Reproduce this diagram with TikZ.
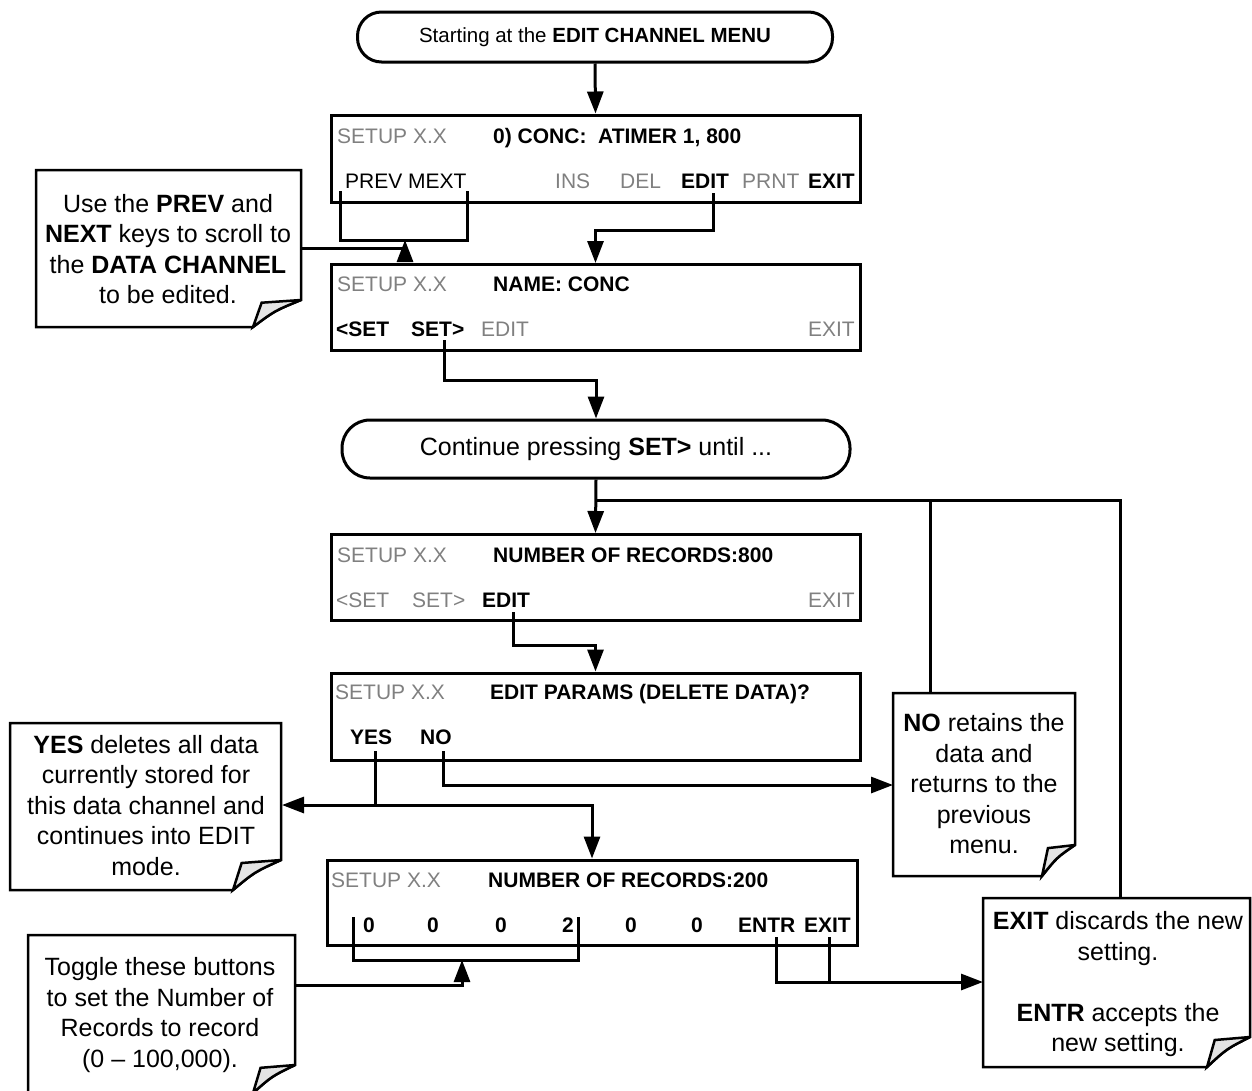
\documentclass[tikz,border=0pt]{standalone}
\usepackage{fontspec}
\setmainfont{Liberation Sans}
\usetikzlibrary{arrows.meta,calc}
\definecolor{scrgray}{RGB}{128,128,128}
\definecolor{foldgray}{RGB}{228,228,228}
\tikzset{
  conn/.style={line width=3pt},
  arr/.style={conn,-{Triangle[length=22pt,width=16pt]}},
  screenbox/.style={draw,line width=3pt,inner sep=0pt,minimum width=529pt,minimum height=86pt},
  termbox/.style={draw,line width=3pt,inner sep=0pt},
  stxt/.style={inner sep=0pt,anchor=base west,font=\fontsize{21}{25}\selectfont},
  gtxt/.style={stxt,text=scrgray},
  btxt/.style={stxt,font=\fontsize{21}{25}\selectfont\bfseries},
  notetxt/.style={align=center,inner sep=0pt,font=\fontsize{25}{30.5}\selectfont},
  notebox/.style={line width=2.5pt},
}
% x1 y1 x2 y2 dx dy
\newcommand\mynote[6]{%
  \draw[notebox,fill=white] (#1,#2) -- (#3,#2) -- (#3,{#4-#6})
     .. controls ({#3-0.55*#5},{#4-0.6*#6}) .. ({#3-#5},#4) -- (#1,#4) -- cycle;
  \filldraw[notebox,fill=foldgray] (#3,{#4-#6}) -- ({#3-0.82*#5},{#4-0.9*#6})
     .. controls ({#3-0.9*#5},{#4-0.5*#6}) .. ({#3-#5},#4)
     .. controls ({#3-0.55*#5},{#4-0.6*#6}) .. (#3,{#4-#6});
}
\begin{document}
\begin{tikzpicture}[x=1pt,y=-1pt]
\useasboundingbox (0,0) rectangle (1252,1090);

% ---------- notes ----------
\mynote{36}{170}{301}{327}{48}{27}
\node[notetxt] (n1t) at (168,249) {Use the \textbf{PREV} and\\\textbf{NEXT} keys to scroll to\\the \textbf{DATA CHANNEL}\\to be edited.};
\mynote{10}{723}{281}{890}{48}{30}
\node[notetxt] (n2t) at (146,805.5) {\textbf{YES} deletes all data\\currently stored for\\this data channel and\\continues into EDIT\\mode.};
\mynote{893}{693}{1075}{876}{33}{31}
\node[notetxt] (n3t) at (984,784) {\textbf{NO} retains the\\data and\\returns to the\\previous\\menu.};
\mynote{983}{898}{1250}{1067}{43}{30}
\node[notetxt] (n4t) at (1118,984.5) {\textbf{EXIT} discards the new\\setting.\\[30.5pt]\textbf{ENTR} accepts the\\new setting.};
\mynote{28}{935}{295}{1093}{42}{28}
\node[notetxt] (n5t) at (160,1015) {Toggle these buttons\\to set the Number of\\Records to record\\(0 -- 100,000).};

% ---------- terminators ----------
\node[termbox,rounded corners=24pt,minimum width=475pt,minimum height=50pt,font=\fontsize{20.5}{24}\selectfont] (t1) at (595,37) {Starting at the \textbf{EDIT CHANNEL MENU}};
\node[termbox,rounded corners=28pt,minimum width=508pt,minimum height=58pt,font=\fontsize{25}{30}\selectfont] (t2) at (596,449) {Continue pressing \textbf{SET>} until ...};

% ---------- screens ----------
\node[screenbox,minimum height=87pt] (scr1) at (595.5,158.5) {};
\node[screenbox] (scr2) at (595.5,307.5) {};
\node[screenbox] (scr3) at (595.5,577.5) {};
\node[screenbox,minimum height=87pt] (scr4) at (595.5,716.5) {};
\node[screenbox,minimum width=530pt,minimum height=85pt] (scr5) at (592,902.5) {};

% screen 1
\node[gtxt] (s1a) at (337,143.5) {SETUP X.X};
\node[btxt] (s1b) at (493,143.5) {0) CONC:\ \ ATIMER 1, 800};
\node[stxt] (s1c) at (345,188) {PREV MEXT};
\node[gtxt] (s1d) at (555,188) {INS};
\node[gtxt] (s1e) at (620,188) {DEL};
\node[btxt] (s1f) at (681,188) {EDIT};
\node[gtxt] (s1g) at (742,188) {PRNT};
\node[btxt,anchor=base east] (s1h) at (855,188) {EXIT};
% screen 2
\node[gtxt] (s2a) at (337,291.5) {SETUP X.X};
\node[btxt] (s2b) at (493,291.5) {NAME: CONC};
\node[btxt] (s2c) at (336,336) {<SET};
\node[btxt] (s2d) at (411,336) {SET>};
\node[gtxt] (s2e) at (481,336) {EDIT};
\node[gtxt,anchor=base east] (s2f) at (855,336) {EXIT};
% screen 3
\node[gtxt] (s3a) at (337,562.5) {SETUP X.X};
\node[btxt] (s3b) at (493,562.5) {NUMBER OF RECORDS:800};
\node[gtxt] (s3c) at (336,607.5) {<SET};
\node[gtxt] (s3d) at (412,607.5) {SET>};
\node[btxt] (s3e) at (482,607.5) {EDIT};
\node[gtxt,anchor=base east] (s3f) at (855,607.5) {EXIT};
% screen 4
\node[gtxt] (s4a) at (335,699.5) {SETUP X.X};
\node[btxt] (s4b) at (490,699.5) {EDIT PARAMS (DELETE DATA)?};
\node[btxt] (s4c) at (350,744.5) {YES};
\node[btxt] (s4d) at (420,744.5) {NO};
% screen 5
\node[gtxt] (s5a) at (331,887.5) {SETUP X.X};
\node[btxt] (s5b) at (488,887.5) {NUMBER OF RECORDS:200};
\node[btxt,anchor=base] (s5c) at (369,932.5) {0};
\node[btxt,anchor=base] (s5d) at (433,932.5) {0};
\node[btxt,anchor=base] (s5e) at (501,932.5) {0};
\node[btxt,anchor=base] (s5f) at (568,932.5) {2};
\node[btxt,anchor=base] (s5g) at (631,932.5) {0};
\node[btxt,anchor=base] (s5h) at (697,932.5) {0};
\node[btxt] (s5i) at (738,932.5) {ENTR};
\node[btxt,anchor=base east] (s5j) at (851,932.5) {EXIT};

% ---------- brackets ----------
\coordinate (br1) at (405,240);
\draw[conn] (340,191) -- (340,240) -- (467,240) -- (467,191);
\coordinate (br5) at (462,960);
\draw[conn] (353,917) -- (353,960) -- (578,960) -- (578,917);

% ---------- connection points ----------
\coordinate (e1) at (713,193);
\coordinate (e2) at (444,340);
\coordinate (e3) at (513,612);
\coordinate (yc) at (375,751);
\coordinate (yj) at (375,805);
\coordinate (nc) at (443,751);
\coordinate (ec) at (776,937);
\coordinate (xc) at (829,937);
\coordinate (j1) at (596,500);
\coordinate (j2) at (1120,500);
\coordinate (j3) at (930,500);
\coordinate (n1r) at (301,248);
\coordinate (n2r) at (282,805);
\coordinate (n3l) at (893,785);
\coordinate (n3top) at (930,693);
\coordinate (n4l) at (983,982);
\coordinate (n4top) at (1120,898);
\coordinate (n5r) at (295,985);

% ---------- connectors ----------
\draw[arr] (t1.south) -- (scr1.north);
\draw[arr] (e1) -- ++(0,37) -| (scr2.north);
\draw[arr] (e2) -- ++(0,40) -| (t2.north);
\draw[arr] (t2.south) -- (scr3.north);
\draw[conn] (j1) -- (j2) -- (n4top);
\draw[conn] (j3) -- (n3top);
\draw[arr] (e3) -- ++(0,33) -| (scr4.north);
\draw[arr] (yc) -- (yj) -| (scr5.north);
\draw[arr] (yj) -- (n2r);
\draw[arr] (nc) |- (n3l);
\draw[arr] (ec) |- (n4l);
\draw[conn] (xc) -- (xc |- n4l);
\draw[arr] (n1r) -| (br1);
\draw[arr] (n5r) -| (br5);
\end{tikzpicture}
\end{document}
